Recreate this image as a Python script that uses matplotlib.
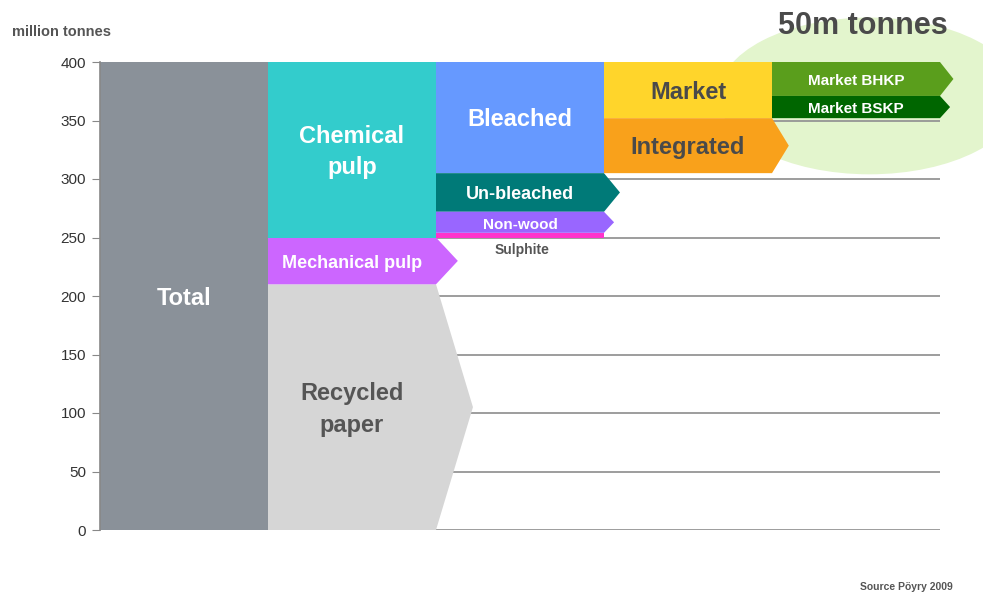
import numpy as np
import matplotlib
matplotlib.use("Agg")
import matplotlib.pyplot as plt
from matplotlib.patches import Polygon, Ellipse

plt.rcParams['font.family'] = ['Liberation Sans', 'DejaVu Sans']

# data (million tonnes)
segment_labels = ["Total", "Recycled\npaper", "Mechanical pulp", "Chemical\npulp",
                  "Bleached", "Un-bleached", "Non-wood", "Sulphite",
                  "Market", "Integrated", "Market BHKP", "Market BSKP"]
segment_column = [0, 1, 1, 1, 2, 2, 2, 2, 3, 3, 4, 4]
segment_low = [0, 0, 210, 250, 305, 272, 254, 250, 352, 305, 371, 352]
segment_high = [400, 210, 250, 400, 400, 305, 272, 254, 400, 352, 400, 371]
y_ticks = [0, 50, 100, 150, 200, 250, 300, 350, 400]
callout_text = "50m tonnes"

# styling
seg_colors = ["#8A9199", "#D6D6D6", "#CC66FF", "#33CCCC",
              "#6699FF", "#007A78", "#9966FF", "#FF33CC",
              "#FFD52B", "#F9A11B", "#5A9E1C", "#006600"]
seg_tip = [0, 0.22, 0.13, 0, 0, 0.095, 0.06, 0, 0, 0.10, 0.08, 0.06]
txt_colors = ["white", "#555555", "white", "white",
              "white", "white", "white", "#555555",
              "#4A4A4A", "#4A4A4A", "white", "white"]
txt_sizes = [17, 17, 13, 17, 17, 13, 11, 10, 17, 17, 11, 11]

fig = plt.figure(figsize=(9.83, 5.94), dpi=100)
ax = fig.add_axes([100 / 983, 1 - 530 / 594, 1 - 100 / 983, 468 / 594])
ax.set_xlim(0, 883 / 168)
ax.set_ylim(0, 400)

# light green highlight behind market pulp
ax.add_patch(Ellipse((4.58, 371), 1.80, 134, facecolor="#E3F5CD",
                     edgecolor="none", zorder=0, clip_on=False))

ax.hlines(y_ticks, 0, 5, color="#959595", lw=1.3, zorder=1)

for lab, col, lo, hi, c, tip, tc, ts in zip(segment_labels, segment_column, segment_low,
                                           segment_high, seg_colors, seg_tip, txt_colors, txt_sizes):
    x0, x1 = col, col + 1
    mid = (lo + hi) / 2
    pts = [(x0, lo), (x1, lo), (x1 + tip, mid), (x1, hi), (x0, hi)]
    ax.add_patch(Polygon(pts, closed=True, facecolor=c, edgecolor="none",
                         zorder=2, clip_on=False))
    if lab == "Sulphite":
        ax.text(col + 0.51, lo - 11, lab, ha="center", va="center", color=tc,
                fontsize=ts, fontweight="bold", zorder=3)
    else:
        ax.text(col + 0.5, mid - 2, lab, ha="center", va="center", color=tc,
                fontsize=ts, fontweight="bold", zorder=3, linespacing=1.45)

ax.text(4.54, 431, callout_text, ha="center", va="center", color="#4A4A4A",
        fontsize=22, fontweight="bold", clip_on=False)

for s in ["top", "right", "bottom"]:
    ax.spines[s].set_visible(False)
ax.spines["left"].set_color("#888888")
ax.spines["left"].set_linewidth(1.2)
ax.set_xticks([])
ax.set_yticks(y_ticks)
ax.tick_params(axis="y", length=6, color="#888888", labelcolor="#333333",
               labelsize=11, pad=4)

fig.text(12 / 983, 1 - 32 / 594, "million tonnes", ha="left", va="center",
         color="#555555", fontsize=10.5, fontweight="bold")
fig.text(953 / 983, 1 - 587 / 594, "Source Pöyry 2009", ha="right", va="center",
         color="#555555", fontsize=7.5, fontweight="bold")

fig.savefig("out.png", dpi=100)
